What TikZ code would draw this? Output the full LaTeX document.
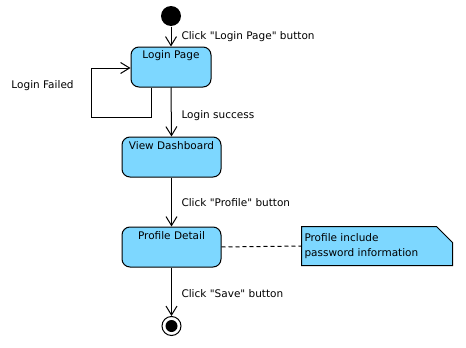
\documentclass[tikz,border=0pt]{standalone}
\usepackage{fontspec}
\setmainfont{DejaVu Sans}[Ligatures=TeXOff]
\usetikzlibrary{arrows.meta}
\definecolor{statefill}{RGB}{125,215,255}
\begin{document}
\begin{tikzpicture}[x=1pt,y=-1pt,line width=1pt,
  every node/.style={font=\fontsize{10.5}{12}\selectfont},
  state/.style={draw,fill=statefill,rounded corners=8pt,minimum height=40pt,inner sep=0pt},
  title/.style={anchor=center},
  arr/.style={-{Straight Barb[length=9pt,width=11pt,line width=1pt]}},
  lbl/.style={anchor=west,inner sep=0pt}]
\useasboundingbox (0,0) rectangle (466,348);

% initial pseudo-state
\node[circle,fill=black,minimum size=20pt,inner sep=0pt] (init) at (171,16) {};

% states
\node[state,minimum width=80pt] (lp) at (171,67) {};
\node[title] (lpt) at (171,55.5) {Login Page};
\node[state,minimum width=99pt] (vd) at (171.5,157) {};
\node[title] (vdt) at (171.5,145.5) {View Dashboard};
\node[state,minimum width=99pt] (pd) at (171.5,247) {};
\node[title] (pdt) at (171.5,235.5) {Profile Detail};

% final state
\node[circle,draw,fill=white,minimum size=19pt,inner sep=0pt] (fin) at (171.5,326) {};
\node[circle,fill=black,minimum size=12pt,inner sep=0pt] (finin) at (fin) {};

% note with folded corner
\node[minimum width=150pt,minimum height=38pt,inner sep=0pt] (note) at (377,246) {};
\draw[fill=statefill] (note.north west) -- ([xshift=-16pt]note.north east)
  -- ([yshift=-16pt]note.north east) -- (note.south east) -- (note.south west) -- cycle;
\node[anchor=west,align=left,inner sep=0pt,font=\fontsize{10.5}{14.5}\selectfont] (notetext)
  at ([xshift=2.5pt,yshift=0pt]note.west) {Profile include\\password information};
\draw[dashed,dash pattern=on 4pt off 3pt] (pd.east) -- (note.west);

% transitions
\draw[arr] (init) -- (lp.north);
\draw[arr] (lp.south) -- (vd.north);
\draw[arr] (vd.south) -- (pd.north);
\draw[arr] (pd.south) -- (fin.north);
\coordinate (loopstart) at ([xshift=-20pt]lp.south);
\draw[arr] (loopstart) -- ++(0,30) -- ++(-60,0) |- ([yshift=-1pt]lp.west);

% labels
\node[lbl] (l1) at (181,36.5) {Click "Login Page" button};
\node[lbl] (l2) at (181,115.5) {Login success};
\node[lbl] (l3) at (181,202.5) {Click "Profile" button};
\node[lbl] (l4) at (181,293.5) {Click "Save" button};
\node[lbl] (l5) at (11,85.5) {Login Failed};
\end{tikzpicture}
\end{document}
